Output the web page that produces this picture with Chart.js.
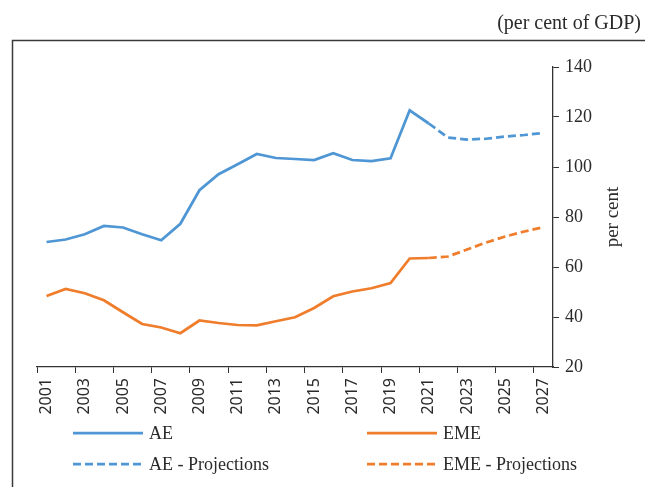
<!DOCTYPE html>
<html>
<head>
<meta charset="utf-8">
<script src="https://cdn.jsdelivr.net/npm/chart.js@4"></script>
<style>
  html, body { margin: 0; padding: 0; background: #fff; }
  #wrap { width: 645px; height: 487px; position: relative; }
</style>
</head>
<body>
<div id="wrap"><canvas id="debtChart"></canvas></div>
<script>
// Chart values (per cent of GDP)
const years = ['2001','2002','2003','2004','2005','2006','2007','2008','2009','2010',
  '2011','2012','2013','2014','2015','2016','2017','2018','2019','2020',
  '2021','2022','2023','2024','2025','2026','2027'];

const aeActual = [70, 71, 73.1, 76.4, 75.8, 73.1, 70.7, 77.3, 90.7, 97.1,
  101.1, 105.2, 103.6, 103.2, 102.8, 105.5, 102.8, 102.4, 103.5, 122.7,
  117.4, null, null, null, null, null, null];
const aeProjected = [null, null, null, null, null, null, null, null, null, null,
  null, null, null, null, null, null, null, null, null, null,
  117.4, 111.8, 111.0, 111.3, 112.2, 112.8, 113.6];

const emeActual = [48.4, 51.2, 49.5, 46.7, 41.9, 37.2, 35.8, 33.5, 38.6, 37.6,
  36.8, 36.7, 38.3, 39.9, 43.6, 48.3, 50.2, 51.5, 53.6, 63.4,
  63.6, null, null, null, null, null, null];
const emeProjected = [null, null, null, null, null, null, null, null, null, null,
  null, null, null, null, null, null, null, null, null, null,
  63.6, 64.2, 67.0, 69.8, 72.2, 74.2, 75.9];

const seriesNames = ['AE', 'EME', 'AE - Projections', 'EME - Projections'];
const unitNote = '(per cent of GDP)';
const yTitle = 'per cent';

const BLUE = '#4f96d4';
const ORANGE = '#ef7d2c';
const INK = '#2a2a2a';
const DASH = [8, 4];

// border, unit note, right axis title and the 2x2 legend
const framePlugin = {
  id: 'frame',
  afterDraw(chart) {
    const ctx = chart.ctx;
    ctx.save();
    ctx.strokeStyle = '#3a3a3a';
    ctx.lineWidth = 1.5;
    ctx.beginPath();
    ctx.moveTo(12.5, 487);
    ctx.lineTo(12.5, 40.5);
    ctx.lineTo(645, 40.5);
    ctx.stroke();

    ctx.fillStyle = INK;
    ctx.font = '20px "Liberation Serif"';
    ctx.textAlign = 'right';
    ctx.textBaseline = 'middle';
    ctx.fillText(unitNote, 641, 24);

    ctx.save();
    ctx.font = '19px "Liberation Serif"';
    ctx.translate(613, 217);
    ctx.rotate(-Math.PI / 2);
    ctx.textAlign = 'center';
    ctx.fillText(yTitle, 0, 0);
    ctx.restore();

    // legend: datasets order AE, EME, AE proj, EME proj
    ctx.font = '18px "Liberation Serif"';
    const cols = [73, 367];
    const rows = [433, 464];
    chart.data.datasets.forEach((ds, i) => {
      const x = cols[i % 2];
      const y = rows[Math.floor(i / 2)];
      ctx.strokeStyle = ds.borderColor;
      ctx.lineWidth = ds.borderWidth;
      ctx.setLineDash(ds.borderDash || []);
      ctx.beginPath();
      ctx.moveTo(x, y);
      ctx.lineTo(x + 70, y);
      ctx.stroke();
      ctx.setLineDash([]);
      ctx.fillStyle = INK;
      ctx.textAlign = 'left';
      ctx.fillText(ds.label, x + 76, y + 1);
    });
    ctx.restore();
  }
};

const chart = new Chart(document.getElementById('debtChart'), {
  type: 'line',
  data: {
    labels: years,
    datasets: [
      { label: seriesNames[0], data: aeActual, borderColor: BLUE, borderWidth: 2.75 },
      { label: seriesNames[1], data: emeActual, borderColor: ORANGE, borderWidth: 2.75 },
      { label: seriesNames[2], data: aeProjected, borderColor: BLUE, borderWidth: 2.75, borderDash: DASH },
      { label: seriesNames[3], data: emeProjected, borderColor: ORANGE, borderWidth: 2.75, borderDash: DASH }
    ]
  },
  options: {
    responsive: true,
    maintainAspectRatio: false,
    animation: false,
    layout: { padding: { left: 37, top: 67, right: 0, bottom: 0 } },
    elements: { point: { radius: 0 }, line: { tension: 0 } },
    plugins: { legend: { display: false }, tooltip: { enabled: false } },
    scales: {
      x: {
        offset: true,
        grid: {
          offset: true,
          drawOnChartArea: false,
          tickLength: 6,
          color: (c) => (c.index % 2 === 0 ? '#333' : 'rgba(0,0,0,0)')
        },
        border: { display: true, color: '#333', width: 1.3 },
        ticks: {
          autoSkip: false,
          minRotation: 90,
          maxRotation: 90,
          padding: 5,
          color: INK,
          font: { family: '"Noto Sans"', size: 16 },
          callback: function (v, i) { return i % 2 === 0 ? this.getLabelForValue(v) : ''; }
        },
        afterFit: (s) => { s.height = 120; }
      },
      y: {
        position: 'right',
        min: 20,
        max: 140,
        ticks: {
          stepSize: 20,
          padding: 6,
          color: INK,
          font: { family: '"Liberation Serif"', size: 18 }
        },
        grid: { drawOnChartArea: false, tickLength: 6, color: '#333' },
        border: { display: true, color: '#333', width: 1.3 },
        afterFit: (s) => { s.width = 92; }
      }
    }
  },
  plugins: [framePlugin]
});
</script>
</body>
</html>
